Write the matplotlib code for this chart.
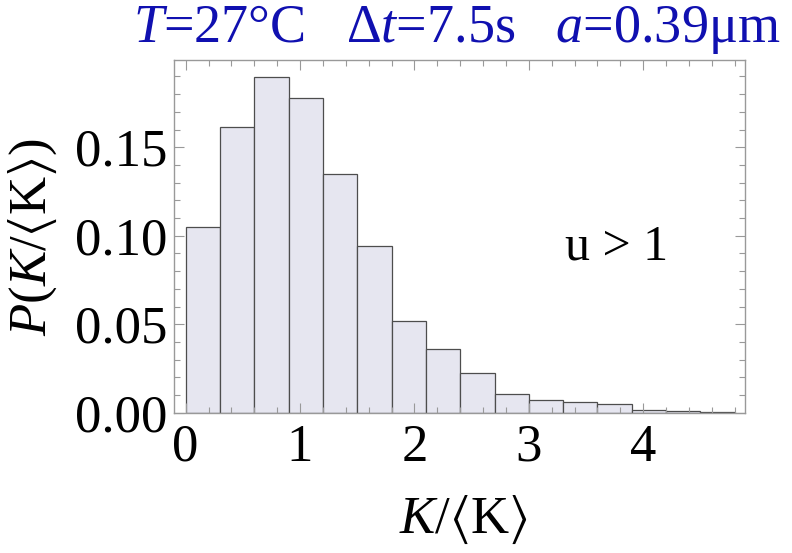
import matplotlib
matplotlib.use("Agg")
import matplotlib.pyplot as plt
from matplotlib.ticker import MultipleLocator

# histogram of K/<K> for u > 1
bin_left = [0.0, 0.3, 0.6, 0.9, 1.2, 1.5, 1.8, 2.1, 2.4, 2.7, 3.0, 3.3, 3.6, 3.9, 4.2, 4.5]
bin_width = 0.3
prob = [0.1047, 0.1612, 0.1895, 0.1776, 0.1347, 0.0940, 0.0516, 0.0362,
        0.0224, 0.0104, 0.0072, 0.0062, 0.0047, 0.0013, 0.0007, 0.0003]

title = r"$T$=27°C   $\Delta t$=7.5s   $a$=0.39μm"
xlabel = r"$K/\langle\mathrm{K}\rangle$"
ylabel = r"$P(K/\langle\mathrm{K}\rangle)$"
note = "u > 1"

plt.rcParams["font.family"] = ["Liberation Serif", "DejaVu Serif"]
plt.rcParams["mathtext.fontset"] = "custom"
plt.rcParams["mathtext.rm"] = "Liberation Serif"
plt.rcParams["mathtext.it"] = "Liberation Serif:italic"
plt.rcParams["mathtext.bf"] = "Liberation Serif:bold"
plt.rcParams["mathtext.fallback"] = "stix"

fig = plt.figure(figsize=(7.92, 5.53), dpi=100)
ax = fig.add_axes([0.2197, 0.2537, 0.7210, 0.6378])

ax.bar(bin_left, prob, width=bin_width, align="edge",
       color="#e6e6f0", edgecolor="#4d4d4d", linewidth=0.9)

ax.set_xlim(-0.102, 4.89)
ax.set_ylim(0, 0.1993)

ax.xaxis.set_major_locator(MultipleLocator(1))
ax.xaxis.set_minor_locator(MultipleLocator(0.2))
ax.yaxis.set_major_locator(MultipleLocator(0.05))
ax.yaxis.set_minor_locator(MultipleLocator(0.01))
ax.yaxis.set_major_formatter(lambda v, p: f"{v:.2f}")

for side in ax.spines.values():
    side.set_color("#999999")
    side.set_linewidth(1.0)

ax.tick_params(which="both", direction="in", top=True, right=True,
               color="#999999", width=0.8)
ax.tick_params(which="major", length=7)
ax.tick_params(which="minor", length=4)
ax.tick_params(axis="x", which="major", labelsize=38, pad=8)
ax.tick_params(axis="y", which="major", labelsize=38, pad=5)

ax.text(3.77, 0.0936, note, fontsize=36, ha="center", va="center")

fig.text(457 / 792, 1 - 30 / 553, title, fontsize=39, color="#1010b0",
         ha="center", va="center")
fig.text(463 / 792, 1 - 520 / 553, xlabel, fontsize=38, ha="center", va="center")
fig.text(33 / 792, 1 - 237 / 553, ylabel, fontsize=38, rotation=90,
         ha="center", va="center")

fig.savefig("out.png", dpi=100)
